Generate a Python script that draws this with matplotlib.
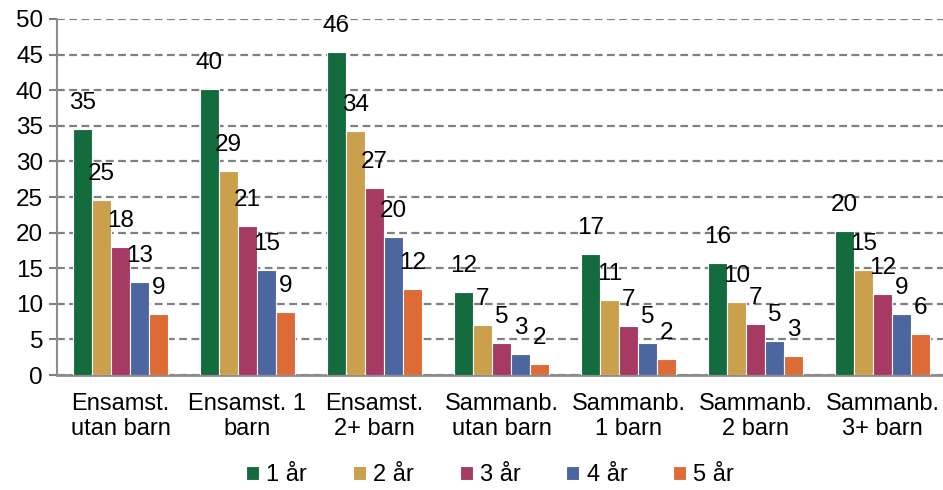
import numpy as np
import matplotlib.pyplot as plt

plt.rcParams['font.family'] = ['Liberation Sans', 'DejaVu Sans']

categories = ['Ensamst.\nutan barn', 'Ensamst. 1\nbarn', 'Ensamst.\n2+ barn',
              'Sammanb.\nutan barn', 'Sammanb.\n1 barn', 'Sammanb.\n2 barn',
              'Sammanb.\n3+ barn']
series = ['1 år', '2 år', '3 år', '4 år', '5 år']

ar1 = [34.6, 40.1, 45.4, 11.7, 17.0, 15.8, 20.2]
ar2 = [24.6, 28.6, 34.2, 7.0, 10.5, 10.2, 14.8]
ar3 = [18.0, 20.9, 26.3, 4.5, 6.9, 7.1, 11.4]
ar4 = [13.0, 14.8, 19.4, 2.9, 4.5, 4.8, 8.6]
ar5 = [8.5, 8.9, 12.1, 1.5, 2.3, 2.7, 5.7]

lab1 = ['35', '40', '46', '12', '17', '16', '20']
lab2 = ['25', '29', '34', '7', '11', '10', '15']
lab3 = ['18', '21', '27', '5', '7', '7', '12']
lab4 = ['13', '15', '20', '3', '5', '5', '9']
lab5 = ['9', '9', '12', '2', '2', '3', '6']

colors = ['#146c3e', '#cba04c', '#a63a62', '#4c67a0', '#de6b35']

fig = plt.figure(figsize=(9.43, 4.90), dpi=100)
ax = fig.add_axes([57 / 943, 115 / 490, 889 / 943, 356 / 490])

x = np.arange(len(categories))
w = 0.15
values = [ar1, ar2, ar3, ar4, ar5]
labels = [lab1, lab2, lab3, lab4, lab5]
for i, (vals, labs) in enumerate(zip(values, labels)):
    pos = x + (i - 2) * w
    ax.bar(pos, vals, w, color=colors[i], edgecolor='white', linewidth=0.8,
           label=series[i], zorder=3)
    for p, v, t in zip(pos, vals, labs):
        ax.annotate(t, (p, v), xytext=(0, 26), textcoords='offset pixels',
                    ha='center', va='center', fontsize=17.5, zorder=4)

ax.set_xlim(-0.5, 6.5)
ax.set_ylim(0, 50)
ax.set_yticks(range(0, 51, 5))
ax.yaxis.grid(True, linestyle=(0, (3.5, 2)), color='#808080', linewidth=1.6, zorder=0)
ax.set_xticks(x)
ax.set_xticklabels(categories, fontsize=17, linespacing=1.15)
ax.tick_params(axis='x', length=0, pad=13)
ax.tick_params(axis='y', labelsize=17.5, length=6, color='#808080', width=1.5, pad=4)
for s in ['top', 'right']:
    ax.spines[s].set_visible(False)
ax.spines['left'].set_color('#8c8c8c')
ax.spines['left'].set_linewidth(1.5)
ax.spines['bottom'].set_color('#8c8c8c')
ax.spines['bottom'].set_linewidth(2)

fig.legend(loc='center', bbox_to_anchor=(490 / 943, 15 / 490), ncol=5,
           frameon=False, fontsize=17, handlelength=0.55, handleheight=0.55,
           handletextpad=0.3, columnspacing=1.95)

fig.savefig('out.png', dpi=100)
